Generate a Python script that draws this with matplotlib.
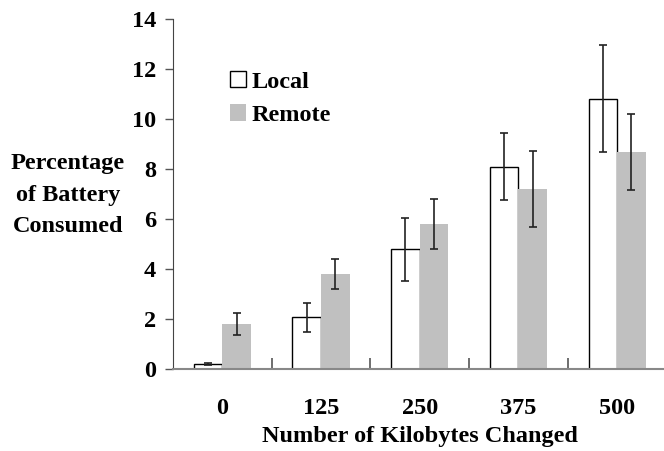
import numpy as np
import matplotlib.pyplot as plt
from matplotlib.patches import Patch

# data
categories = ["0", "125", "250", "375", "500"]
local_vals = [0.2, 2.08, 4.8, 8.1, 10.8]
remote_vals = [1.8, 3.8, 5.8, 7.2, 8.68]
local_err_lo = [0.05, 0.6, 1.28, 1.35, 2.12]
local_err_hi = [0.06, 0.57, 1.25, 1.35, 2.15]
remote_err_lo = [0.44, 0.6, 1.0, 1.53, 1.51]
remote_err_hi = [0.43, 0.6, 1.0, 1.52, 1.53]

plt.rcParams['font.family'] = ['Liberation Serif', 'DejaVu Serif']
plt.rcParams['font.weight'] = 'bold'
FS = 17.5

fig = plt.figure(figsize=(6.64, 4.51), dpi=100)
ax = fig.add_axes([173 / 664, 1 - 369 / 451, 493.5 / 664, 350 / 451])

x = np.arange(len(categories))
w = 0.29
err_kw = dict(ecolor='#222222', elinewidth=1.2, capsize=3, capthick=1.2)
ax.bar(x - w / 2, local_vals, w, color='white', edgecolor='black', linewidth=1.0,
       yerr=[local_err_lo, local_err_hi], error_kw=err_kw, zorder=2)
ax.bar(x + w / 2, remote_vals, w, color='#c0c0c0', edgecolor='none',
       yerr=[remote_err_lo, remote_err_hi], error_kw=err_kw, zorder=2)

ax.set_xlim(-0.5, len(categories) - 0.5)
ax.set_ylim(0, 14)
ax.set_yticks(range(0, 15, 2))
ax.set_xticks(x)
ax.set_xticklabels(categories)
ax.set_xticks(np.arange(0.5, len(categories) - 0.5, 1), minor=True)
ax.tick_params(axis='x', which='major', length=0, pad=21, labelsize=FS)
ax.tick_params(axis='x', which='minor', direction='in', length=8, width=1.2, color='#555555')
ax.tick_params(axis='y', direction='out', length=6, width=1, color='#555555', pad=6, labelsize=FS)
for lab in ax.get_xticklabels() + ax.get_yticklabels():
    lab.set_fontweight('bold')

ax.spines['top'].set_visible(False)
ax.spines['right'].set_visible(False)
ax.spines['left'].set_color('#444444')
ax.spines['bottom'].set_color('#888888')
ax.spines['bottom'].set_linewidth(1.5)

ax.set_xlabel("Number of Kilobytes Changed", fontsize=FS, fontweight='bold', labelpad=5)
fig.text(68 / 664, 1 - 195 / 451, "Percentage\nof Battery\nConsumed", ha='center', va='center',
         fontsize=FS, fontweight='bold', linespacing=1.65)

handles = [Patch(facecolor='white', edgecolor='black', linewidth=1.0, label='Local'),
           Patch(facecolor='#c0c0c0', edgecolor='none', label='Remote')]
ax.legend(handles=handles, loc='upper left', bbox_to_anchor=(57 / 493.5, 1 - 52 / 350),
          frameon=False, handlelength=0.65, handleheight=0.65,
          handletextpad=0.25, labelspacing=0.48, borderpad=0, borderaxespad=0,
          prop={'weight': 'bold', 'size': FS})

fig.savefig("out.png", dpi=100)
